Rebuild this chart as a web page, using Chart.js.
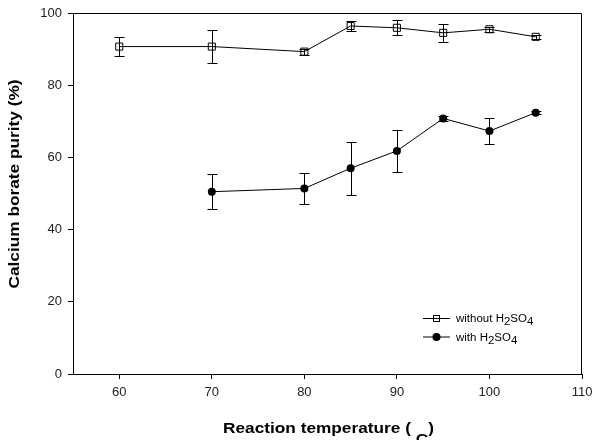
<!DOCTYPE html>
<html>
<head>
<meta charset="utf-8">
<script src="https://cdn.jsdelivr.net/npm/chart.js@4.4.1/dist/chart.umd.min.js"></script>
<style>
  body { margin: 0; background: #fff; }
  #wrap { width: 594px; height: 440px; }
</style>
</head>
<body>
<div id="wrap"><canvas id="purityChart"></canvas></div>
<script>
'use strict';

// temperatures (C) for each series
var tempsWithout = [60, 70, 80, 85, 90, 95, 100, 105];
var tempsWith = [70, 80, 85, 90, 95, 100, 105];

// purity values (%) and their error bars
var purityWithout = [90.7, 90.7, 89.3, 96.4, 95.9, 94.5, 95.5, 93.4];
var errWithout = [2.6, 4.5, 0.8, 1.3, 2.1, 2.4, 0.7, 0.6];
var purityWith = [50.5, 51.4, 57.0, 61.8, 70.8, 67.3, 72.4];
var errWith = [4.9, 4.3, 7.4, 5.8, 0.7, 3.7, 0.5];

// tick labels
var xTicks = [60, 70, 80, 90, 100, 110];
var yTicks = [0, 20, 40, 60, 80, 100];

var FONT = '"Liberation Sans", Arial, sans-serif';
var STRETCH = 1.15; // reference text is a bit wider than Arial

function toPoints(xs, ys){
    return xs.map(function(x, i){ return {x: x, y: ys[i]}; });
}

//draws text stretched horizontally, returns the advance
function wideText(ctx, str, x, y){
    ctx.save();
    ctx.translate(x, y);
    ctx.scale(STRETCH, 1);
    ctx.fillText(str, 0, 0);
    ctx.restore();
    return ctx.measureText(str).width * STRETCH;
}

//error bars, frame, axis titles and legend (subscripts need manual text)
var decorPlugin = {
    id: 'decor',
    afterDatasetsDraw: function(chart){
        var ctx = chart.ctx;
        var xs = chart.scales.x, ys = chart.scales.y;
        ctx.save();
        ctx.strokeStyle = '#000';
        ctx.lineWidth = 1;
        chart.data.datasets.forEach(function(ds){
            ds.data.forEach(function(p, i){
                var e = ds.errors[i];
                var px = Math.round(xs.getPixelForValue(p.x)) + 0.5;
                var top = Math.round(ys.getPixelForValue(p.y + e)) + 0.5;
                var bot = Math.round(ys.getPixelForValue(p.y - e)) + 0.5;
                ctx.beginPath();
                ctx.moveTo(px, top); ctx.lineTo(px, bot);
                ctx.moveTo(px - 5, top); ctx.lineTo(px + 5, top);
                ctx.moveTo(px - 5, bot); ctx.lineTo(px + 5, bot);
                ctx.stroke();
            });
        });
        ctx.restore();
    },
    afterDraw: function(chart){
        var ctx = chart.ctx;
        var a = chart.chartArea;
        ctx.save();

        // top and right frame lines
        ctx.strokeStyle = '#000';
        ctx.lineWidth = 1;
        var l = Math.round(a.left), r = Math.round(a.right) - 0.5, t = Math.round(a.top) + 0.5;
        ctx.beginPath();
        ctx.moveTo(l, t); ctx.lineTo(r, t); ctx.lineTo(r, Math.round(a.bottom));
        ctx.stroke();

        ctx.fillStyle = '#000';
        ctx.textBaseline = 'alphabetic';
        ctx.textAlign = 'left';

        // y title
        ctx.font = 'bold 15px ' + FONT;
        var yt = 'Calcium borate purity (%)';
        var ytw = ctx.measureText(yt).width * STRETCH;
        ctx.save();
        ctx.translate(19, 184);
        ctx.rotate(-Math.PI / 2);
        wideText(ctx, yt, -ytw / 2, 0);
        ctx.restore();

        // x title with subscript C
        var x = 223, base = 433;
        x += wideText(ctx, 'Reaction temperature ( ', x, base);
        x += wideText(ctx, 'C', x, base + 11);
        wideText(ctx, ')', x, base);

        // legend
        var rows = [
            {y: 318.5, label: 'without ', style: 'rect'},
            {y: 337, label: 'with ', style: 'circle'}
        ];
        rows.forEach(function(row){
            ctx.strokeStyle = '#000';
            ctx.beginPath();
            ctx.moveTo(423, row.y); ctx.lineTo(450, row.y);
            ctx.stroke();
            if(row.style === 'rect'){
                ctx.strokeRect(433.5, row.y - 3, 6, 6);
            } else {
                ctx.fillStyle = '#000';
                ctx.beginPath();
                ctx.arc(436.5, row.y, 4, 0, Math.PI * 2);
                ctx.fill();
            }
            ctx.fillStyle = '#000';
            ctx.font = '10px ' + FONT;
            var tx = 456, b = row.y + 3.5;
            var parts = [[row.label + 'H', 0], ['2', 3], ['SO', 0], ['4', 3]];
            parts.forEach(function(pt){
                tx += wideText(ctx, pt[0], tx, b + pt[1]);
            });
        });

        ctx.restore();
    }
};

var ctx = document.getElementById('purityChart').getContext('2d');

window.purityChart = new Chart(ctx, {
    type: 'line',
    data: {
        datasets: [{
            label: 'without H2SO4',
            data: toPoints(tempsWithout, purityWithout),
            errors: errWithout,
            borderColor: '#000',
            borderWidth: 1,
            pointStyle: 'rect',
            pointRadius: 5,
            pointBackgroundColor: 'rgba(0,0,0,0)',
            pointBorderColor: '#000',
            pointBorderWidth: 1,
            tension: 0
        }, {
            label: 'with H2SO4',
            data: toPoints(tempsWith, purityWith),
            errors: errWith,
            borderColor: '#000',
            borderWidth: 1,
            pointStyle: 'circle',
            pointRadius: 4,
            pointBackgroundColor: '#000',
            pointBorderColor: '#000',
            pointBorderWidth: 0,
            tension: 0
        }]
    },
    options: {
        responsive: true,
        maintainAspectRatio: false,
        animation: false,
        layout: { padding: { top: 13, right: 12, left: 0, bottom: 0 } },
        plugins: {
            legend: { display: false },
            tooltip: { enabled: false }
        },
        scales: {
            x: {
                type: 'linear',
                min: 55,
                max: 110,
                afterBuildTicks: function(scale){
                    scale.ticks = xTicks.map(function(v){ return {value: v}; });
                },
                afterFit: function(scale){
                    scale.height = 66;
                    scale.paddingLeft = 0;
                    scale.paddingRight = 0;
                },
                grid: { display: true, drawOnChartArea: false, tickLength: 5, color: '#000', tickColor: '#000' },
                border: { display: true, color: '#000', width: 1 },
                ticks: { color: '#222', padding: 6, maxRotation: 0, font: { family: FONT, size: 13 } }
            },
            y: {
                min: 0,
                max: 100,
                afterBuildTicks: function(scale){
                    scale.ticks = yTicks.map(function(v){ return {value: v}; });
                },
                afterFit: function(scale){
                    scale.width = 73;
                    scale.paddingTop = 0;
                    scale.paddingBottom = 0;
                },
                grid: { display: true, drawOnChartArea: false, tickLength: 5, color: '#000', tickColor: '#000' },
                border: { display: true, color: '#000', width: 1 },
                ticks: { color: '#222', padding: 6, font: { family: FONT, size: 13 } }
            }
        }
    },
    plugins: [decorPlugin]
});
</script>
</body>
</html>
